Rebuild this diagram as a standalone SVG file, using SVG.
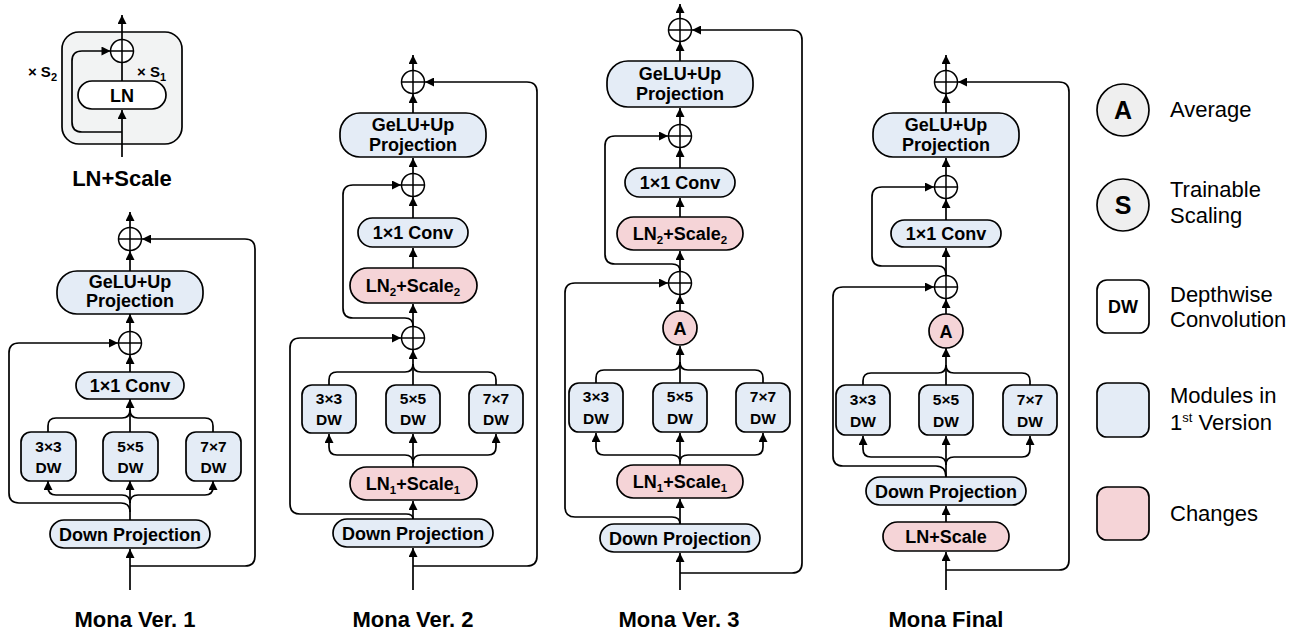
<svg xmlns="http://www.w3.org/2000/svg" xmlns:xlink="http://www.w3.org/1999/xlink" width="1297" height="632" viewBox="0 0 1297 632">
<style>
text{font-family:"Liberation Sans",Arial,sans-serif;fill:#000}
.b{font-weight:bold}
.box{stroke:#000;stroke-width:1.7}
.blue{fill:#e4ecf6}
.pink{fill:#f5d4d7}
.w{fill:#fff}
.g{fill:#efefef}
.ln{fill:none;stroke:#000;stroke-width:1.7}
.t17{font-size:18px;font-weight:bold;text-anchor:middle}
.t15{font-size:15.5px;font-weight:bold;text-anchor:middle}
.lab{font-size:22px;font-weight:bold;text-anchor:middle}
.leg{font-size:22px}
</style>
<defs>
<marker id="arr" viewBox="0 0 10 10" refX="10" refY="5" markerWidth="10" markerHeight="9" markerUnits="userSpaceOnUse" orient="auto">
<path d="M0,0 L10,5 L0,10 z" fill="#000"/>
</marker>
<g id="plus">
<circle cx="0" cy="0" r="11.5" fill="#fff" stroke="#000" stroke-width="1.5"/>
<path d="M-11.5,0 H11.5 M0,-11.5 V11.5" stroke="#000" stroke-width="1.5"/>
</g>
</defs>

<!-- LN+Scale inset -->
<g id="lnscale-inset">
<rect x="62" y="32" width="120" height="112" rx="17" class="box" fill="#f2f3f3"/>
<rect x="78" y="81" width="88" height="28" rx="14" class="box w"/>
<text x="122" y="101.5" class="t17">LN</text>
<text x="57" y="77" class="b" font-size="15" text-anchor="end">× S<tspan font-size="11" dy="4">2</tspan></text>
<text x="137" y="77" class="b" font-size="15">× S<tspan font-size="11" dy="4">1</tspan></text>
<text x="122" y="186" class="lab" font-size="21">LN+Scale</text>
</g>

<g id="connectors" class="ln" marker-end="url(#arr)">
<!-- inset -->
<path d="M122 157 V110"/>
<path d="M122 81 V62.5" marker-end="none"/>
<path d="M122 39.5 V15"/>
<path d="M122 132 H82 Q72 132 72 122 V61 Q72 51 82 51 H110.5"/>

<!-- Ver 1 -->
<path d="M130 227.5 V212"/>
<path d="M130 271 V251"/>
<path d="M130 331.5 V314"/>
<path d="M130 372 V355"/>
<path d="M130 432 V399"/>
<path d="M48 432 V426 Q48 418 56 418 H122 Q130 418 130 410" marker-end="none"/>
<path d="M213 432 V426 Q213 418 205 418 H138 Q130 418 130 410" marker-end="none"/>
<path d="M130 520 V481"/>
<path d="M130 503 Q130 495 122 495 H56 Q48 495 48 487 V481"/>
<path d="M130 503 Q130 495 138 495 H205 Q213 495 213 487 V481"/>
<path d="M130 512 Q130 503 121 503 H19 Q9 503 9 493 V353 Q9 343 19 343 H118"/>
<path d="M130 590 V549"/>
<path d="M130 566 H245 Q255 566 255 556 V249 Q255 239 245 239 H142"/>

<!-- Ver 2 -->
<path d="M413 70.5 V55"/>
<path d="M413 113 V94"/>
<path d="M413 173.5 V158"/>
<path d="M413 218 V197"/>
<path d="M413 268 V248"/>
<path d="M413 326.5 V304"/>
<path d="M413 326 Q413 318 405 318 H353 Q343 318 343 308 V195 Q343 185 353 185 H401"/>
<path d="M413 385 V350"/>
<path d="M329 385 V380 Q329 372 337 372 H405 Q413 372 413 364" marker-end="none"/>
<path d="M496 385 V380 Q496 372 488 372 H421 Q413 372 413 364" marker-end="none"/>
<path d="M413 467 V434"/>
<path d="M413 463 Q413 455 405 455 H337 Q329 455 329 447 V434"/>
<path d="M413 463 Q413 455 421 455 H488 Q496 455 496 447 V434"/>
<path d="M413 519 V501"/>
<path d="M413 519 Q413 514 406 514 H300 Q290 514 290 504 V348 Q290 338 300 338 H401"/>
<path d="M413 590 V548"/>
<path d="M413 566 H527 Q537 566 537 556 V92 Q537 82 527 82 H425"/>

<!-- Ver 3 -->
<path d="M680 18.5 V4"/>
<path d="M680 61 V42"/>
<path d="M680 124.5 V108"/>
<path d="M680 168 V148"/>
<path d="M680 217 V198"/>
<path d="M680 271.5 V251"/>
<path d="M680 271 Q680 264 672 264 H615 Q605 264 605 254 V146 Q605 136 615 136 H668"/>
<path d="M680 311 V295"/>
<path d="M680 383 V346"/>
<path d="M596 383 V378 Q596 370 604 370 H672 Q680 370 680 362" marker-end="none"/>
<path d="M763 383 V378 Q763 370 755 370 H688 Q680 370 680 362" marker-end="none"/>
<path d="M680 465 V433"/>
<path d="M680 462 Q680 455 672 455 H604 Q596 455 596 447 V433"/>
<path d="M680 462 Q680 455 688 455 H755 Q763 455 763 447 V433"/>
<path d="M680 524 V499"/>
<path d="M680 524 Q680 517 672 517 H575 Q565 517 565 507 V293 Q565 283 575 283 H668"/>
<path d="M680 590 V553"/>
<path d="M680 573 H792 Q802 573 802 563 V40 Q802 30 792 30 H692"/>

<!-- Final -->
<path d="M946 70.5 V55"/>
<path d="M946 113 V94"/>
<path d="M946 175.5 V158"/>
<path d="M946 220 V199"/>
<path d="M946 275.5 V248"/>
<path d="M946 275 Q946 266 938 266 H882 Q872 266 872 256 V197 Q872 187 882 187 H934"/>
<path d="M946 314 V299"/>
<path d="M946 385 V348"/>
<path d="M863 385 V381 Q863 373 871 373 H938 Q946 373 946 365" marker-end="none"/>
<path d="M1030 385 V381 Q1030 373 1022 373 H954 Q946 373 946 365" marker-end="none"/>
<path d="M946 477 V436"/>
<path d="M946 465 Q946 457 938 457 H871 Q863 457 863 449 V436"/>
<path d="M946 465 Q946 457 954 457 H1022 Q1030 457 1030 449 V436"/>
<path d="M946 477 Q946 466 936 466 H843 Q833 466 833 456 V297 Q833 287 843 287 H934"/>
<path d="M946 522 V506"/>
<path d="M946 590 V552"/>
<path d="M946 570 H1059 Q1069 570 1069 560 V92 Q1069 82 1059 82 H958"/>
</g>

<!-- inset plus -->
<g id="inset-plus"><use xlink:href="#plus" x="122" y="51"/></g>

<!-- Ver 1 nodes -->
<g id="v1-add-top"><use xlink:href="#plus" x="130" y="239"/></g>
<g id="v1-gelu"><rect x="57" y="271" width="146" height="43" rx="20" class="box blue"/><text x="130" y="288" class="t17">GeLU+Up</text><text x="130" y="307" class="t17">Projection</text></g>
<g id="v1-add-mid"><use xlink:href="#plus" x="130" y="343"/></g>
<g id="v1-conv"><rect x="76" y="372" width="108" height="27" rx="13.5" class="box blue"/><text x="130" y="392" class="t17">1×1 Conv</text></g>
<g id="v1-dw3"><rect x="21" y="432" width="55" height="49" rx="10" class="box blue"/><text x="48.5" y="452" class="t15">3×3</text><text x="48.5" y="473" class="t15">DW</text></g>
<g id="v1-dw5"><rect x="103" y="432" width="55" height="49" rx="10" class="box blue"/><text x="130.5" y="452" class="t15">5×5</text><text x="130.5" y="473" class="t15">DW</text></g>
<g id="v1-dw7"><rect x="186" y="432" width="55" height="49" rx="10" class="box blue"/><text x="213.5" y="452" class="t15">7×7</text><text x="213.5" y="473" class="t15">DW</text></g>
<g id="v1-down"><rect x="50" y="520" width="160" height="28" rx="14" class="box blue"/><text x="130" y="540.5" class="t17">Down Projection</text></g>
<text x="135" y="627" class="lab">Mona Ver. 1</text>

<!-- Ver 2 nodes -->
<g id="v2-add-top"><use xlink:href="#plus" x="413" y="82"/></g>
<g id="v2-gelu"><rect x="340" y="113" width="146" height="44" rx="20" class="box blue"/><text x="413" y="131" class="t17">GeLU+Up</text><text x="413" y="151" class="t17">Projection</text></g>
<g id="v2-add-2"><use xlink:href="#plus" x="413" y="185"/></g>
<g id="v2-conv"><rect x="358" y="218" width="110" height="29" rx="14.5" class="box blue"/><text x="413" y="239" class="t17">1×1 Conv</text></g>
<g id="v2-ln2"><rect x="350" y="268" width="127" height="35" rx="17.5" class="box pink"/><text x="413" y="291.5" class="t17">LN<tspan font-size="11.5" dy="4">2</tspan><tspan dy="-4">+Scale</tspan><tspan font-size="11.5" dy="4">2</tspan></text></g>
<g id="v2-add-3"><use xlink:href="#plus" x="413" y="338"/></g>
<g id="v2-dw3"><rect x="302" y="385" width="54" height="48" rx="10" class="box blue"/><text x="329" y="404" class="t15">3×3</text><text x="329" y="425" class="t15">DW</text></g>
<g id="v2-dw5"><rect x="386" y="385" width="54" height="48" rx="10" class="box blue"/><text x="413" y="404" class="t15">5×5</text><text x="413" y="425" class="t15">DW</text></g>
<g id="v2-dw7"><rect x="469" y="385" width="54" height="48" rx="10" class="box blue"/><text x="496" y="404" class="t15">7×7</text><text x="496" y="425" class="t15">DW</text></g>
<g id="v2-ln1"><rect x="350" y="467" width="127" height="33" rx="16.5" class="box pink"/><text x="413" y="489.5" class="t17">LN<tspan font-size="11.5" dy="4">1</tspan><tspan dy="-4">+Scale</tspan><tspan font-size="11.5" dy="4">1</tspan></text></g>
<g id="v2-down"><rect x="333" y="519" width="160" height="28" rx="14" class="box blue"/><text x="413" y="539.5" class="t17">Down Projection</text></g>
<text x="413" y="627" class="lab">Mona Ver. 2</text>

<!-- Ver 3 nodes -->
<g id="v3-add-top"><use xlink:href="#plus" x="680" y="30"/></g>
<g id="v3-gelu"><rect x="607" y="61" width="146" height="46" rx="21" class="box blue"/><text x="680" y="80" class="t17">GeLU+Up</text><text x="680" y="100" class="t17">Projection</text></g>
<g id="v3-add-2"><use xlink:href="#plus" x="680" y="136"/></g>
<g id="v3-conv"><rect x="625" y="168" width="110" height="29" rx="14.5" class="box blue"/><text x="680" y="189" class="t17">1×1 Conv</text></g>
<g id="v3-ln2"><rect x="617" y="217" width="126" height="33" rx="16.5" class="box pink"/><text x="680" y="239.5" class="t17">LN<tspan font-size="11.5" dy="4">2</tspan><tspan dy="-4">+Scale</tspan><tspan font-size="11.5" dy="4">2</tspan></text></g>
<g id="v3-add-3"><use xlink:href="#plus" x="680" y="283"/></g>
<g id="v3-avg"><circle cx="680" cy="328" r="17" class="box pink"/><text x="680" y="334.5" class="t17">A</text></g>
<g id="v3-dw3"><rect x="569" y="383" width="54" height="49" rx="10" class="box blue"/><text x="596" y="402" class="t15">3×3</text><text x="596" y="424" class="t15">DW</text></g>
<g id="v3-dw5"><rect x="653" y="383" width="54" height="49" rx="10" class="box blue"/><text x="680" y="402" class="t15">5×5</text><text x="680" y="424" class="t15">DW</text></g>
<g id="v3-dw7"><rect x="736" y="383" width="54" height="49" rx="10" class="box blue"/><text x="763" y="402" class="t15">7×7</text><text x="763" y="424" class="t15">DW</text></g>
<g id="v3-ln1"><rect x="617" y="465" width="126" height="33" rx="16.5" class="box pink"/><text x="680" y="487.5" class="t17">LN<tspan font-size="11.5" dy="4">1</tspan><tspan dy="-4">+Scale</tspan><tspan font-size="11.5" dy="4">1</tspan></text></g>
<g id="v3-down"><rect x="600" y="524" width="160" height="28" rx="14" class="box blue"/><text x="680" y="544.5" class="t17">Down Projection</text></g>
<text x="679" y="627" class="lab">Mona Ver. 3</text>

<!-- Final nodes -->
<g id="f-add-top"><use xlink:href="#plus" x="946" y="82"/></g>
<g id="f-gelu"><rect x="873" y="113" width="146" height="44" rx="20" class="box blue"/><text x="946" y="131" class="t17">GeLU+Up</text><text x="946" y="151" class="t17">Projection</text></g>
<g id="f-add-2"><use xlink:href="#plus" x="946" y="187"/></g>
<g id="f-conv"><rect x="891" y="220" width="110" height="27" rx="13.5" class="box blue"/><text x="946" y="240" class="t17">1×1 Conv</text></g>
<g id="f-add-3"><use xlink:href="#plus" x="946" y="287"/></g>
<g id="f-avg"><circle cx="946" cy="331" r="17" class="box pink"/><text x="946" y="337.5" class="t17">A</text></g>
<g id="f-dw3"><rect x="836" y="385" width="54" height="50" rx="10" class="box blue"/><text x="863" y="405" class="t15">3×3</text><text x="863" y="427" class="t15">DW</text></g>
<g id="f-dw5"><rect x="919" y="385" width="54" height="50" rx="10" class="box blue"/><text x="946" y="405" class="t15">5×5</text><text x="946" y="427" class="t15">DW</text></g>
<g id="f-dw7"><rect x="1003" y="385" width="54" height="50" rx="10" class="box blue"/><text x="1030" y="405" class="t15">7×7</text><text x="1030" y="427" class="t15">DW</text></g>
<g id="f-down"><rect x="866" y="477" width="160" height="28" rx="14" class="box blue"/><text x="946" y="497.5" class="t17">Down Projection</text></g>
<g id="f-lnscale"><rect x="883" y="522" width="126" height="29" rx="14.5" class="box pink"/><text x="946" y="543" class="t17">LN+Scale</text></g>
<text x="946" y="627" class="lab">Mona Final</text>

<!-- Legend -->
<g id="legend-average"><circle cx="1123" cy="110" r="26" class="box g"/><text x="1123" y="119" class="b" font-size="25" text-anchor="middle">A</text><text x="1170" y="117" class="leg">Average</text></g>
<g id="legend-scaling"><circle cx="1123" cy="205" r="26" class="box g"/><text x="1123" y="214" class="b" font-size="25" text-anchor="middle">S</text><text x="1170" y="197" class="leg">Trainable</text><text x="1170" y="223" class="leg">Scaling</text></g>
<g id="legend-dw"><rect x="1097" y="280" width="52" height="53" rx="10" class="box w"/><text x="1123" y="313" class="b" font-size="18" text-anchor="middle">DW</text><text x="1170" y="302" class="leg">Depthwise</text><text x="1170" y="327" class="leg">Convolution</text></g>
<g id="legend-modules"><rect x="1097" y="383" width="52" height="54" rx="10" class="box blue"/><text x="1170" y="403" class="leg">Modules in</text><text x="1170" y="430" class="leg">1<tspan font-size="13" dy="-8">st</tspan><tspan dy="8"> Version</tspan></text></g>
<g id="legend-changes"><rect x="1097" y="487" width="52" height="53" rx="10" class="box pink"/><text x="1170" y="521" class="leg">Changes</text></g>
</svg>
